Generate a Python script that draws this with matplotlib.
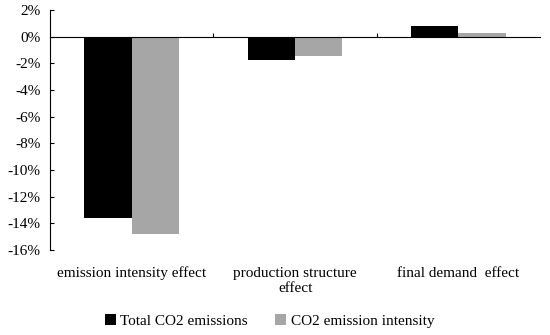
import numpy as np
import matplotlib.pyplot as plt
from matplotlib.ticker import FuncFormatter, FixedLocator

categories = ['emission intensity effect', 'production structure\neffect', 'final demand  effect']
total_co2 = [-13.6, -1.75, 0.8]
co2_intensity = [-14.8, -1.45, 0.25]

plt.rcParams['font.family'] = ['Liberation Serif', 'DejaVu Serif']
plt.rcParams['font.size'] = 11

fig = plt.figure(figsize=(5.5, 3.35), dpi=100)
ax = fig.add_axes([0.091, 0.254, 0.891, 0.716])

x = np.arange(len(categories))
w = 0.29
ax.bar(x - w / 2, total_co2, w, color='black', label='Total CO2 emissions')
ax.bar(x + w / 2, co2_intensity, w, color='#a6a6a6', label='CO2 emission intensity')

ax.set_xlim(-0.5, len(categories) - 0.5)
ax.set_ylim(-16, 2)
ax.set_yticks(np.arange(-16, 3, 2))
ax.yaxis.set_major_formatter(FuncFormatter(lambda v, p: f'{v:.0f}%'))
ax.tick_params(axis='y', direction='in', length=3, width=0.8, pad=7)

# category labels at the bottom, zero line carries the boundary ticks
ax.set_xticks(x)
ax.set_xticklabels(categories, linespacing=1.4)
ax.tick_params(axis='x', which='major', length=0, pad=12)
ax.spines['bottom'].set_visible(False)
ax.spines['right'].set_visible(False)
ax.spines['top'].set_position(('data', 0))
ax.spines['top'].set_linewidth(0.8)
ax.xaxis.set_minor_locator(FixedLocator(x[:-1] + 0.5))
ax.tick_params(axis='x', which='minor', top=True, bottom=False, direction='out', length=3, width=0.8)
ax.spines['left'].set_linewidth(0.8)

ax.legend(loc='lower center', bbox_to_anchor=(0.49, -0.02), bbox_transform=fig.transFigure,
          ncol=2, frameon=False, handlelength=0.7, handleheight=0.7, handletextpad=0.3,
          columnspacing=1.8, fontsize=11)

fig.savefig('out.png', dpi=100)
